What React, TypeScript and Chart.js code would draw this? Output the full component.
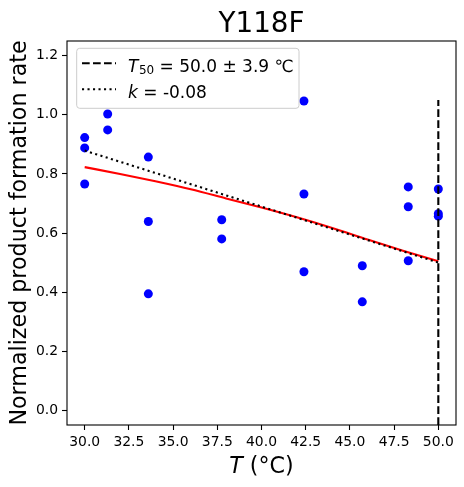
import React, { useEffect, useRef } from 'react';
import Chart from 'chart.js/auto';

// measured data (temperature in °C, normalized rate)
const tempPoints = [30, 30, 30, 31.3, 31.3, 33.6, 33.6, 33.6, 37.75, 37.75, 42.4, 42.4, 42.4, 45.7, 45.7, 48.3, 48.3, 48.3, 50, 50, 50];
const ratePoints = [0.923, 0.888, 0.766, 1.003, 0.949, 0.857, 0.639, 0.394, 0.645, 0.58, 1.047, 0.732, 0.469, 0.489, 0.367, 0.756, 0.689, 0.506, 0.749, 0.665, 0.657];

// fitted curve
const fitTemps = [30, 32, 34, 36, 38, 40, 42, 44, 46, 48, 50];
const fitRates = [0.823, 0.8, 0.775, 0.748, 0.717, 0.686, 0.653, 0.617, 0.578, 0.54, 0.504];

// slope line (k)
const slopeTemps = [30, 50];
const slopeRates = [0.879, 0.5];

// T50 marker
const t50Temps = [50, 50];
const t50Rates = [-0.05, 1.05];

const xTicks = [30, 32.5, 35, 37.5, 40, 42.5, 45, 47.5, 50];
const yTicks = [0, 0.2, 0.4, 0.6, 0.8, 1.0, 1.2];

const titleText = 'Y118F';
const yLabel = 'Normalized product formation rate';
const legendT50 = ' = 50.0 ± 3.9 ℃';
const legendK = ' = -0.08';

const FONT = "'DejaVu Sans', sans-serif";
const DASHED = [7.7, 3.3];
const DOTTED = [2.1, 3.4];

const toXY = (xs: number[], ys: number[]) => xs.map((x, i) => ({ x, y: ys[i] }));

const decorPlugin = {
  id: 'decor',
  afterDraw(chart: any) {
    const { ctx, chartArea: a } = chart;
    const cx = (a.left + a.right) / 2;
    ctx.save();

    // frame
    ctx.strokeStyle = '#000';
    ctx.lineWidth = 1.1;
    ctx.strokeRect(a.left, a.top, a.right - a.left, a.bottom - a.top);

    ctx.fillStyle = '#000';
    ctx.textBaseline = 'alphabetic';

    // title
    ctx.font = `27.8px ${FONT}`;
    ctx.textAlign = 'center';
    ctx.fillText(titleText, cx, 32.3);

    // x label: italic T + (°C)
    ctx.font = `italic 22.2px ${FONT}`;
    const tw = ctx.measureText('T').width;
    ctx.font = `22.2px ${FONT}`;
    const rest = ' (°C)';
    const rw = ctx.measureText(rest).width;
    const x0 = cx - (tw + rw) / 2;
    ctx.textAlign = 'left';
    ctx.font = `italic 22.2px ${FONT}`;
    ctx.fillText('T', x0, 473);
    ctx.font = `22.2px ${FONT}`;
    ctx.fillText(rest, x0 + tw, 473);

    // y label
    ctx.save();
    ctx.translate(26, (a.top + a.bottom) / 2);
    ctx.rotate(-Math.PI / 2);
    ctx.textAlign = 'center';
    ctx.font = `22.2px ${FONT}`;
    ctx.fillText(yLabel, 0, 0);
    ctx.restore();

    // legend box
    ctx.beginPath();
    ctx.roundRect(76.7, 48.3, 222.3, 60, 3);
    ctx.fillStyle = 'rgba(255,255,255,0.8)';
    ctx.fill();
    ctx.strokeStyle = '#cccccc';
    ctx.lineWidth = 1;
    ctx.stroke();

    // handles
    ctx.strokeStyle = '#000';
    ctx.lineWidth = 2.1;
    ctx.setLineDash(DASHED);
    ctx.beginPath();
    ctx.moveTo(82, 63.3);
    ctx.lineTo(116, 63.3);
    ctx.stroke();
    ctx.setLineDash(DOTTED);
    ctx.beginPath();
    ctx.moveTo(82, 89.3);
    ctx.lineTo(116, 89.3);
    ctx.stroke();
    ctx.setLineDash([]);

    // legend texts
    ctx.fillStyle = '#000';
    ctx.textAlign = 'left';
    let lx = 128;
    ctx.font = `italic 17px ${FONT}`;
    ctx.fillText('T', lx, 71.7);
    lx += ctx.measureText('T').width + 0.5;
    ctx.font = `12px ${FONT}`;
    ctx.fillText('50', lx, 74.3);
    lx += ctx.measureText('50').width;
    ctx.font = `17px ${FONT}`;
    ctx.fillText(legendT50, lx, 71.7);

    lx = 128;
    ctx.font = `italic 17px ${FONT}`;
    ctx.fillText('k', lx, 97.7);
    lx += ctx.measureText('k').width;
    ctx.font = `17px ${FONT}`;
    ctx.fillText(legendK, lx, 97.7);

    ctx.restore();
  },
};

const axisCommon = {
  border: { display: false },
  grid: {
    display: true,
    drawOnChartArea: false,
    drawTicks: true,
    tickLength: 5,
    tickWidth: 1.1,
    tickColor: '#000',
  },
};

export default function App() {
  const canvasRef = useRef<HTMLCanvasElement>(null);
  const chartRef = useRef<Chart | null>(null);

  useEffect(() => {
    document.body.style.margin = '0';
    if (!canvasRef.current) return;
    if (chartRef.current) chartRef.current.destroy();

    chartRef.current = new Chart(canvasRef.current, {
      type: 'scatter',
      data: {
        datasets: [
          {
            data: toXY(t50Temps, t50Rates),
            showLine: true,
            borderColor: '#000',
            borderWidth: 2.1,
            borderDash: DASHED,
            pointRadius: 0,
          },
          {
            data: toXY(slopeTemps, slopeRates),
            showLine: true,
            borderColor: '#000',
            borderWidth: 2.1,
            borderDash: DOTTED,
            pointRadius: 0,
          },
          {
            data: toXY(fitTemps, fitRates),
            showLine: true,
            borderColor: '#ff0000',
            borderWidth: 2.1,
            cubicInterpolationMode: 'monotone',
            pointRadius: 0,
          },
          {
            data: toXY(tempPoints, ratePoints),
            backgroundColor: '#0000ff',
            borderWidth: 0,
            pointRadius: 4.5,
          },
        ],
      },
      options: {
        animation: false,
        responsive: true,
        maintainAspectRatio: false,
        layout: { padding: { top: 41, right: 8, left: 0, bottom: 0 } },
        plugins: {
          legend: { display: false },
          tooltip: { enabled: false },
          title: { display: false },
        },
        scales: {
          x: {
            ...axisCommon,
            type: 'linear',
            min: 29,
            max: 51,
            afterBuildTicks: (scale: any) => {
              scale.ticks = xTicks.map((v) => ({ value: v }));
            },
            afterFit: (scale: any) => {
              scale.height = 62;
            },
            ticks: {
              autoSkip: false,
              maxRotation: 0,
              padding: 4,
              color: '#000',
              font: { family: FONT, size: 13.9 },
              callback: (v: any) => Number(v).toFixed(1),
            },
          },
          y: {
            ...axisCommon,
            type: 'linear',
            min: -0.05,
            max: 1.25,
            afterBuildTicks: (scale: any) => {
              scale.ticks = yTicks.map((v) => ({ value: v }));
            },
            afterFit: (scale: any) => {
              scale.width = 67;
            },
            ticks: {
              autoSkip: false,
              padding: 4,
              color: '#000',
              font: { family: FONT, size: 13.9 },
              callback: (v: any) => Number(v).toFixed(1),
            },
          },
        },
      },
      plugins: [decorPlugin],
    } as any);

    return () => {
      if (chartRef.current) {
        chartRef.current.destroy();
        chartRef.current = null;
      }
    };
  }, []);

  return (
    <div style={{ position: 'relative', width: '464px', height: '487px', background: '#fff' }}>
      <canvas ref={canvasRef} />
    </div>
  );
}
